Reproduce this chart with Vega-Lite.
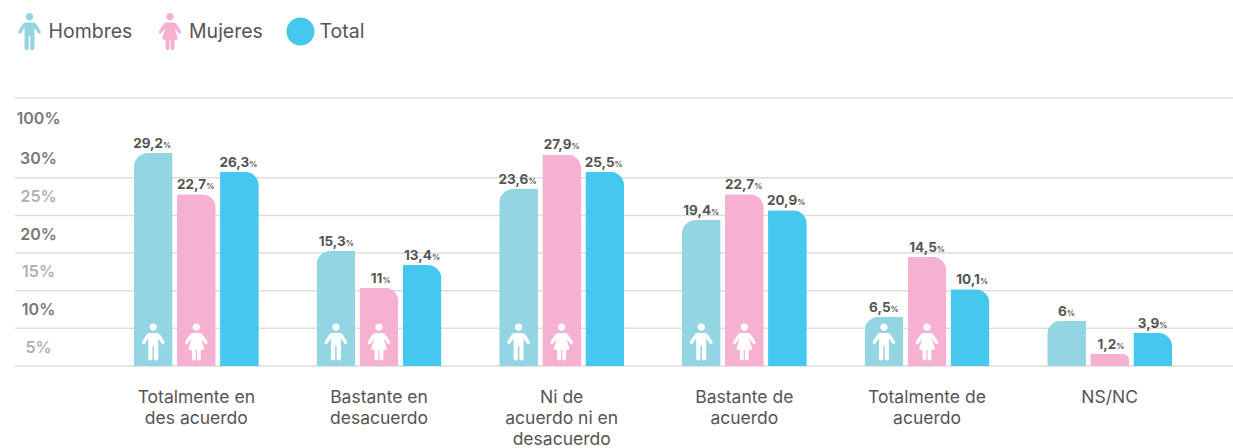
{
"$schema":"https://vega.github.io/schema/vega-lite/v6.json",
"width":1218,"height":268,
"autosize":{"type":"none"},
"padding":{"left":15,"top":98,"right":0,"bottom":82},
"background":"white",
"config":{"view":{"stroke":null},"font":"Inter",
 "legend":{"orient":"none","legendX":-4,"legendY":-85,"direction":"horizontal","columns":3,"symbolSize":1369,"symbolStrokeWidth":0,"labelFontSize":19.5,"labelColor":"#555555","labelFont":"Inter","labelOffset":0.5,"columnPadding":18.5,"labelLimit":200,"symbolOpacity":1}},
"data":{"values":[
{"cat":"Totalmente en|des acuerdo","group":"Hombres","value":28.3,"label":"29,2"},
{"cat":"Totalmente en|des acuerdo","group":"Mujeres","value":22.8,"label":"22,7"},
{"cat":"Totalmente en|des acuerdo","group":"Total","value":25.8,"label":"26,3"},
{"cat":"Bastante en|desacuerdo","group":"Hombres","value":15.3,"label":"15,3"},
{"cat":"Bastante en|desacuerdo","group":"Mujeres","value":10.4,"label":"11"},
{"cat":"Bastante en|desacuerdo","group":"Total","value":13.4,"label":"13,4"},
{"cat":"Ni de|acuerdo ni en|desacuerdo","group":"Hombres","value":23.5,"label":"23,6"},
{"cat":"Ni de|acuerdo ni en|desacuerdo","group":"Mujeres","value":28.1,"label":"27,9"},
{"cat":"Ni de|acuerdo ni en|desacuerdo","group":"Total","value":25.8,"label":"25,5"},
{"cat":"Bastante de|acuerdo","group":"Hombres","value":19.4,"label":"19,4"},
{"cat":"Bastante de|acuerdo","group":"Mujeres","value":22.8,"label":"22,7"},
{"cat":"Bastante de|acuerdo","group":"Total","value":20.7,"label":"20,9"},
{"cat":"Totalmente de|acuerdo","group":"Hombres","value":6.5,"label":"6,5"},
{"cat":"Totalmente de|acuerdo","group":"Mujeres","value":14.5,"label":"14,5"},
{"cat":"Totalmente de|acuerdo","group":"Total","value":10.2,"label":"10,1"},
{"cat":"NS/NC","group":"Hombres","value":6,"label":"6"},
{"cat":"NS/NC","group":"Mujeres","value":1.6,"label":"1,2"},
{"cat":"NS/NC","group":"Total","value":4.4,"label":"3,9"}
]},
"layer":[
{"data":{"values":[{"v":0},{"v":5},{"v":10},{"v":15},{"v":20},{"v":25},{"v":35.6}]},
 "mark":{"type":"rule","color":"#dddddd","strokeWidth":1.5},
 "encoding":{"y":{"field":"v","type":"quantitative","scale":{"domain":[0,35.6],"nice":false},
  "axis":{"title":null,"values":[2.5,7.5,12.5,17.5,22.5,27.5,32.9],"grid":false,"domain":false,"ticks":false,"tickSize":0,"labelAlign":"center","labelPadding":-23,"labelFontSize":16,"labelFontWeight":600,"labelBaseline":"middle",
   "labelExpr":"datum.value==32.9?'100%':(datum.value+2.5)+'%'",
   "labelColor":{"expr":"datum.value==2.5||datum.value==12.5||datum.value==22.5?'#b0b0b2':'#77777a'"}}}}},
{"encoding":{
  "x":{"field":"cat","type":"nominal","sort":null,"scale":{"range":[90,1186],"paddingInner":0.316,"paddingOuter":0.158},
    "axis":{"title":null,"domain":false,"ticks":false,"labelAngle":0,"labelFontSize":17.5,"labelColor":"#555555","labelPadding":22,"labelLineHeight":21,"labelLimit":300,"labelExpr":"split(datum.value,'|')"}},
  "xOffset":{"field":"group","type":"nominal","scale":{"domain":["Hombres","Mujeres","Total"],"paddingInner":0.1}},
  "y":{"field":"value","type":"quantitative"}},
 "layer":[
 {"mark":{"type":"point","filled":true,"size":1,"strokeWidth":0},
  "encoding":{"y":{"datum":0},
   "color":{"field":"group","type":"nominal","title":null,"scale":{"domain":["Hombres","Mujeres","Total"],"range":["#94d5e4","#f6b0d2","#45c7ee"]}},
   "shape":{"field":"group","type":"nominal","title":null,"scale":{"domain":["Hombres","Mujeres","Total"],"range":[
    "M0,-1A.2,.2 0 1,1 0,-.6A.2,.2 0 1,1 0,-1ZM-.2,-.48L.2,-.48Q.32,-.48 .38,-.38L.6,-.02Q.65,.08 .55,.12Q.48,.14 .44,.06L.27,-.2L.27,.9Q.27,1 .15,1Q.04,1 .04,.9L.04,.22L-.04,.22L-.04,.9Q-.04,1 -.15,1Q-.27,1 -.27,.9L-.27,-.2L-.44,.06Q-.48,.14 -.55,.12Q-.65,.08 -.6,-.02L-.38,-.38Q-.32,-.48 -.2,-.48Z",
    "M0,-1A.2,.2 0 1,1 0,-.6A.2,.2 0 1,1 0,-1ZM-.18,-.48L.18,-.48Q.3,-.48 .36,-.38L.6,-.02Q.65,.08 .55,.12Q.48,.14 .44,.06L.26,-.18L.42,.36Q.44,.44 .34,.44L.24,.44L.24,.9Q.24,1 .13,1Q.03,1 .03,.9L.03,.44L-.03,.44L-.03,.9Q-.03,1 -.13,1Q-.24,1 -.24,.9L-.24,.44L-.34,.44Q-.44,.44 -.42,.36L-.26,-.18L-.44,.06Q-.48,.14 -.55,.12Q-.65,.08 -.6,-.02L-.36,-.38Q-.3,-.48 -.18,-.48Z",
    "M-.76,0A.76,.76 0 1,1 .76,0A.76,.76 0 1,1 -.76,0ZM0,-1L0,-1ZM0,1L0,1Z"]}}}},
 {"transform":[{"filter":"datum.group=='Hombres'"}],"mark":{"type":"bar","color":"#94d5e4","cornerRadiusTopLeft":14}},
 {"transform":[{"filter":"datum.group=='Mujeres'"}],"mark":{"type":"bar","color":"#f6b0d2","cornerRadiusTopRight":14}},
 {"transform":[{"filter":"datum.group=='Total'"}],"mark":{"type":"bar","color":"#45c7ee","cornerRadiusTopRight":14}},
 {"transform":[{"filter":"datum.group!='Total'&&datum.cat!='NS/NC'"}],
  "mark":{"type":"point","filled":true,"size":1369,"strokeWidth":0,"opacity":1,"color":"white"},
  "encoding":{"y":{"datum":3.2},"shape":{"field":"group","type":"nominal","title":null}}},
 {"mark":{"type":"text","align":"right","baseline":"bottom","dy":-2,"dx":{"expr":"length(datum.label)*3.2-3"},"fontSize":13.5,"fontWeight":700,"color":"#555555"},
  "encoding":{"text":{"field":"label"}}},
 {"mark":{"type":"text","align":"left","baseline":"bottom","dy":-3,"dx":{"expr":"length(datum.label)*3.2-3"},"fontSize":8,"fontWeight":700,"color":"#555555"},
  "encoding":{"text":{"value":"%"}}}
 ]}
]}
